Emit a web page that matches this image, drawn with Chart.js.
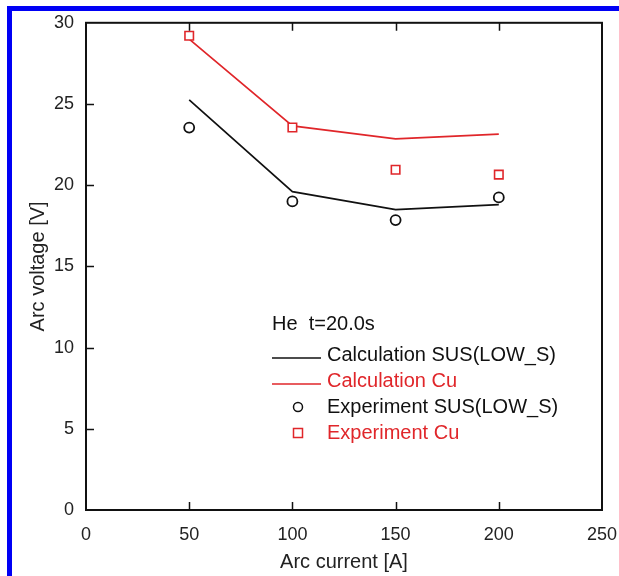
<!DOCTYPE html>
<html>
<head>
<meta charset="utf-8">
<script src="https://cdn.jsdelivr.net/npm/chart.js@4.4.1/dist/chart.umd.min.js"></script>
<style>
  html, body { margin: 0; padding: 0; background: #fff; }
  #wrap { position: relative; width: 619px; height: 576px; }
  #frame {
    position: absolute; left: 7px; top: 6px; right: 0; bottom: 0;
    border-left: 5px solid #0000f5; border-top: 5px solid #0000f5;
    pointer-events: none;
  }
</style>
</head>
<body>
<div id="wrap">
  <canvas id="c" width="619" height="576"></canvas>
  <div id="frame"></div>
</div>
<script>
// Arc current [A]
const currents = [50, 100, 150, 200];
// Arc voltage [V]
const calcSUS = [25.25, 19.6, 18.5, 18.8];
const calcCu  = [29.0, 23.65, 22.85, 23.15];
const expSUS  = [23.55, 19.0, 17.85, 19.25];
const expCu   = [29.2, 23.55, 20.95, 20.65];

const xTicks = [0, 50, 100, 150, 200, 250];
const yTicks = [0, 5, 10, 15, 20, 25, 30];

const RED = '#e0262a';
const BLACK = '#111111';
const FONT = 'Liberation Sans, Arial, Helvetica, sans-serif';

const pts = vals => currents.map((x, i) => ({ x, y: vals[i] }));

// Box frame with inward tick marks on the left, bottom and top edges
const framePlugin = {
  id: 'frame',
  afterDatasetsDraw(chart) {
    const { ctx, chartArea: a, scales: { x, y } } = chart;
    ctx.save();
    ctx.strokeStyle = BLACK;
    ctx.lineWidth = 2;
    ctx.strokeRect(a.left, a.top, a.right - a.left, a.bottom - a.top);
    ctx.lineWidth = 1.5;
    ctx.beginPath();
    xTicks.slice(1, -1).forEach(v => {
      const px = Math.round(x.getPixelForValue(v)) + 0.5;
      ctx.moveTo(px, a.bottom); ctx.lineTo(px, a.bottom - 8);
      ctx.moveTo(px, a.top); ctx.lineTo(px, a.top + 8);
    });
    yTicks.slice(1, -1).forEach(v => {
      const py = Math.round(y.getPixelForValue(v)) + 0.5;
      ctx.moveTo(a.left, py); ctx.lineTo(a.left + 8, py);
    });
    ctx.stroke();
    ctx.restore();
  }
};

// Key drawn inside the plot, below the gas / time note
const keyPlugin = {
  id: 'key',
  afterDatasetsDraw(chart) {
    const { ctx } = chart;
    ctx.save();
    ctx.font = '20px ' + FONT;
    ctx.textBaseline = 'middle';
    ctx.textAlign = 'left';
    ctx.fillStyle = BLACK;
    ctx.fillText('He  t=20.0s', 272, 324);

    const rows = [
      { kind: 'line', color: BLACK, text: 'Calculation SUS(LOW_S)', y: 355 },
      { kind: 'line', color: RED, text: 'Calculation Cu', y: 381 },
      { kind: 'circle', color: BLACK, text: 'Experiment SUS(LOW_S)', y: 407 },
      { kind: 'square', color: RED, text: 'Experiment Cu', y: 433 }
    ];
    rows.forEach(r => {
      ctx.strokeStyle = r.color;
      ctx.lineWidth = 1.5;
      if (r.kind === 'line') {
        ctx.beginPath();
        ctx.moveTo(272, r.y + 3); ctx.lineTo(321, r.y + 3);
        ctx.stroke();
      } else if (r.kind === 'circle') {
        ctx.beginPath();
        ctx.arc(298, r.y, 4.5, 0, Math.PI * 2);
        ctx.stroke();
      } else {
        ctx.strokeRect(293.5, r.y - 4.5, 9, 9);
      }
      ctx.fillStyle = r.color;
      ctx.fillText(r.text, 327, r.y);
    });
    ctx.restore();
  }
};

new Chart(document.getElementById('c'), {
  type: 'scatter',
  data: {
    datasets: [
      { label: 'Experiment SUS(LOW_S)', data: pts(expSUS), order: 0,
        pointStyle: 'circle', pointRadius: 5, borderColor: BLACK,
        backgroundColor: '#fff', borderWidth: 1.8, showLine: false },
      { label: 'Experiment Cu', data: pts(expCu), order: 0,
        pointStyle: 'rect', pointRadius: 6, borderColor: RED,
        backgroundColor: '#fff', borderWidth: 1.6, showLine: false },
      { label: 'Calculation SUS(LOW_S)', data: pts(calcSUS), order: 1,
        showLine: true, pointRadius: 0, borderColor: BLACK, borderWidth: 1.7, tension: 0 },
      { label: 'Calculation Cu', data: pts(calcCu), order: 1,
        showLine: true, pointRadius: 0, borderColor: RED, borderWidth: 1.7, tension: 0 }
    ]
  },
  options: {
    responsive: false,
    animation: false,
    layout: { padding: { top: 22, right: 17, left: 0, bottom: 0 } },
    plugins: { legend: { display: false }, tooltip: { enabled: false } },
    scales: {
      x: {
        type: 'linear', min: 0, max: 250,
        afterBuildTicks: s => { s.ticks = xTicks.map(v => ({ value: v })); },
        afterFit: s => { s.height = 66; s.paddingLeft = 0; s.paddingRight = 0; },
        grid: { display: false, drawTicks: false },
        border: { display: false },
        ticks: { padding: 14, color: '#222', font: { family: FONT, size: 18 } },
        title: { display: true, text: 'Arc current [A]', color: '#222',
                 font: { family: FONT, size: 20 }, padding: { top: 0, bottom: 2 } }
      },
      y: {
        type: 'linear', min: 0, max: 30,
        afterBuildTicks: s => { s.ticks = yTicks.map(v => ({ value: v })); },
        afterFit: s => { s.width = 86; },
        grid: { display: false, drawTicks: false },
        border: { display: false },
        ticks: { padding: 12, color: '#222', font: { family: FONT, size: 18 } },
        title: { display: true, text: 'Arc voltage [V]', color: '#222',
                 font: { family: FONT, size: 20 }, padding: { top: 26, bottom: 0 } }
      }
    }
  },
  plugins: [framePlugin, keyPlugin]
});
</script>
</body>
</html>
